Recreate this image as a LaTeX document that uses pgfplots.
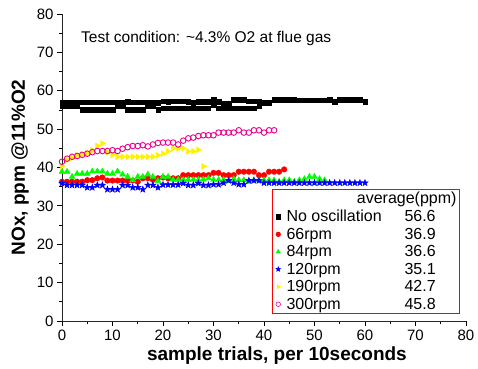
\documentclass[border=0pt]{standalone}
\usepackage{fontspec}
\setmainfont{Liberation Sans}
\usepackage{pgfplots}
\pgfplotsset{compat=1.18}
\pgfdeclareplotmark{fstar}{%
  \pgfpathmoveto{\pgfpointpolar{90}{\pgfplotmarksize}}%
  \pgfpathlineto{\pgfpointpolar{126}{0.42\pgfplotmarksize}}%
  \pgfpathlineto{\pgfpointpolar{162}{\pgfplotmarksize}}%
  \pgfpathlineto{\pgfpointpolar{198}{0.42\pgfplotmarksize}}%
  \pgfpathlineto{\pgfpointpolar{234}{\pgfplotmarksize}}%
  \pgfpathlineto{\pgfpointpolar{270}{0.42\pgfplotmarksize}}%
  \pgfpathlineto{\pgfpointpolar{306}{\pgfplotmarksize}}%
  \pgfpathlineto{\pgfpointpolar{342}{0.42\pgfplotmarksize}}%
  \pgfpathlineto{\pgfpointpolar{18}{\pgfplotmarksize}}%
  \pgfpathlineto{\pgfpointpolar{54}{0.42\pgfplotmarksize}}%
  \pgfpathclose
  \pgfusepathqfillstroke}
\begin{document}
\begin{tikzpicture}
\useasboundingbox (-62pt,-47pt) rectangle (416pt,321pt);
\begin{axis}[
  at={(0,0)}, anchor=south west,
  scale only axis, width=404pt, height=307pt,
  xmin=0, xmax=80, ymin=0, ymax=80,
  axis x line*=bottom, axis y line*=left,
  xtick={0,10,...,80}, ytick={0,10,...,80},
  minor tick num=1,
  tick align=outside,
  major tick length=5pt, minor tick length=3pt,
  tick style={black, line width=0.8pt},
  axis line style={line width=1pt, black!85},
  ticklabel style={font=\fontsize{15}{15}\selectfont},
  /pgf/number format/assume math mode=true,
  xlabel={sample trials, per 10seconds},
  ylabel={NOx, ppm @11\%O2},
  label style={font=\fontsize{19}{19}\selectfont\bfseries},
  xlabel style={at={(axis description cs:0.532,-0.112)}, anchor=center},
  ylabel style={at={(axis description cs:-0.104,0.5)}, anchor=center},
  legend style={at={(axis description cs:0.985,0.023)}, anchor=south east,
    draw=red, line width=0.8pt, font=\fontsize{16}{17}\selectfont,
    inner xsep=1pt, inner ysep=1pt, row sep=0.8pt},
  legend cell align=left,
  legend image code/.code={\draw[mark repeat=2,mark phase=2,line width=0.6pt,mark size=2.3pt] plot coordinates {(0pt,0pt)(5pt,0pt)(10pt,0pt)};},
]
\addlegendimage{empty legend}
\addlegendentry{\makebox[174pt][r]{average(ppm)}}

% No oscillation (two runs)
\addplot[only marks, mark=square*, mark size=2.2pt, black] coordinates {
(0,57.0)(1,57.0)(2,57.0)(3,57.0)(4,57.0)(5,57.0)(6,57.0)(7,57.0)(8,57.0)(9,57.0)
(10,57.0)(11,57.0)(12,57.0)(13,57.2)(14,57.0)(15,57.0)(16,57.0)(17,57.0)(18,56.9)(19,56.9)
(20,57.3)(21,57.1)(22,57.3)(23,57.3)(24,57.3)(25,57.1)(26,56.9)(27,57.1)(28,57.1)(29,57.1)
(30,57.7)(31,57.1)(32,56.7)(33,56.7)(34,57.7)(35,57.7)(36,57.7)(37,57.3)(38,57.3)(39,57.1)
(40,56.9)(41,56.9)(42,57.7)(43,57.7)(44,57.7)(45,57.7)(46,57.7)(47,57.5)(48,57.5)(49,57.5)
(50,57.5)(51,57.5)(52,57.5)(53,57.7)(54,57.1)(55,57.7)(56,57.7)(57,57.7)(58,57.7)(59,57.7)
(60,57.1)};
\addlegendentry{\makebox[122pt][l]{\hspace*{4pt}No oscillation}56.6}
\addplot[only marks, mark=square*, mark size=2.2pt, black, forget plot] coordinates {
(0,56.0)(1,56.0)(2,56.0)(3,56.0)(4,55.1)(5,55.1)(6,55.1)(7,55.1)(8,55.1)(9,55.1)
(10,55.1)(11,56.0)(12,56.0)(13,55.1)(14,55.1)(15,55.1)(16,55.1)(17,56.0)(18,56.0)(19,55.1)
(20,55.4)(21,55.4)(22,55.4)(23,55.4)(24,55.4)(25,55.4)(26,55.4)(27,55.4)(28,55.4)(29,55.4)
(30,56.3)(31,55.4)(32,55.4)(33,55.4)(34,55.4)(35,55.4)(36,55.4)(37,55.4)(38,55.4)(39,56.1)};

% 66rpm
\addplot[only marks, mark=*, mark size=2.8pt, red] coordinates {
(0,36.3)(1,36.3)(2,36.3)(3,36.3)(4,36.3)(5,36.7)(6,36.7)(7,37.2)(8,37.4)(9,36.6)
(10,36.6)(11,36.6)(12,36.6)(13,36.6)(14,36.6)(15,36.3)(16,37.2)(17,37.2)(18,36.8)(19,37.2)
(20,37.4)(21,37.2)(22,37.2)(23,37.2)(24,38.0)(25,38.0)(26,38.0)(27,38.0)(28,38.0)(29,38.0)
(30,38.6)(31,38.6)(32,38.0)(33,38.0)(34,38.0)(35,38.9)(36,38.9)(37,38.9)(38,38.9)(39,38.0)
(40,38.0)(41,38.9)(42,38.9)(43,38.9)(44,39.5)};
\addlegendentry{\makebox[122pt][l]{\hspace*{4pt}66rpm}36.9}

% 84rpm
\addplot[only marks, mark=triangle*, mark size=3.4pt, green] coordinates {
(0,38.9)(1,38.9)(2,37.6)(3,38.4)(4,38.4)(5,38.4)(6,39.0)(7,39.0)(8,39.0)(9,38.4)
(10,38.4)(11,39.0)(12,38.2)(13,37.6)(14,36.7)(15,37.6)(16,37.6)(17,38.2)(18,37.6)(19,36.5)
(20,37.6)(21,37.6)(22,36.8)(23,36.8)(24,36.8)(25,36.8)(26,36.8)(27,36.8)(28,36.9)(29,37.2)
(30,36.8)(31,36.8)(32,36.8)(33,36.5)(34,37.0)(35,36.7)(36,36.7)(37,36.3)(38,36.7)(39,36.7)
(40,36.7)(41,36.7)(42,36.7)(43,36.3)(44,36.7)(45,36.7)(46,36.3)(47,36.7)(48,37.0)(49,37.6)
(50,37.6)(51,37.0)(52,36.7)};
\addlegendentry{\makebox[122pt][l]{\hspace*{4pt}84rpm}36.6}

% 120rpm
\addplot[only marks, mark=fstar, mark size=3.4pt, blue] coordinates {
(0,35.9)(1,35.4)(2,35.4)(3,35.4)(4,35.4)(5,34.8)(6,34.8)(7,35.4)(8,35.4)(9,34.3)
(10,34.3)(11,34.3)(12,35.4)(13,35.4)(14,34.8)(15,34.8)(16,34.3)(17,35.4)(18,35.4)(19,34.8)
(20,35.5)(21,35.5)(22,35.5)(23,35.5)(24,35.9)(25,35.4)(26,35.4)(27,35.9)(28,35.4)(29,35.4)
(30,35.6)(31,35.6)(32,36.0)(33,36.6)(34,36.0)(35,35.6)(36,35.6)(37,36.6)(38,36.6)(39,36.6)
(40,36.0)(41,36.0)(42,36.0)(43,36.0)(44,36.0)(45,36.0)(46,36.0)(47,36.0)(48,36.0)(49,36.0)
(50,36.0)(51,36.0)(52,36.0)(53,36.0)(54,36.0)(55,36.0)(56,36.0)(57,36.0)(58,36.0)(59,36.0)
(60,36.0)};
\addlegendentry{\makebox[122pt][l]{\hspace*{4pt}120rpm}35.1}

% 190rpm
\addplot[only marks, mark=triangle*, mark size=3.4pt, yellow, mark options={rotate=-90}] coordinates {
(0,40.3)(1,42.0)(2,42.5)(3,43.2)(4,43.4)(5,43.8)(6,44.5)(7,45.6)(8,46.3)(9,44.0)
(10,43.3)(11,42.8)(12,42.8)(13,42.8)(14,42.8)(15,42.8)(16,42.8)(17,42.8)(18,42.8)(19,43.2)
(20,43.6)(21,44.2)(22,45.0)(23,45.0)(24,45.0)(25,44.2)(26,44.2)(27,44.6)(28,40.3)};
\addlegendentry{\makebox[122pt][l]{\hspace*{4pt}190rpm}42.7}

% 300rpm
\addplot[only marks, mark=o, mark size=2.8pt, magenta, line width=0.9pt] coordinates {
(0,41.5)(1,42.3)(2,42.8)(3,43.0)(4,43.3)(5,43.6)(6,44.0)(7,44.3)(8,44.3)(9,44.3)
(10,44.5)(11,44.3)(12,44.9)(13,45.3)(14,45.6)(15,45.6)(16,45.8)(17,45.5)(18,46.0)(19,46.4)
(20,46.5)(21,46.5)(22,46.5)(23,46.0)(24,47.0)(25,47.6)(26,47.8)(27,48.2)(28,48.4)(29,48.4)
(30,48.4)(31,49.1)(32,49.1)(33,49.1)(34,49.1)(35,49.7)(36,49.1)(37,49.1)(38,49.7)(39,49.7)
(40,49.1)(41,49.7)(42,49.7)};
\addlegendentry{\makebox[122pt][l]{\hspace*{4pt}300rpm}45.8}

\node[anchor=west, font=\fontsize{15.5}{15.5}\selectfont] at (axis cs:3.1,73.7) {Test condition: \textasciitilde4.3\% O2 at flue gas};
\end{axis}
\end{tikzpicture}
\end{document}
